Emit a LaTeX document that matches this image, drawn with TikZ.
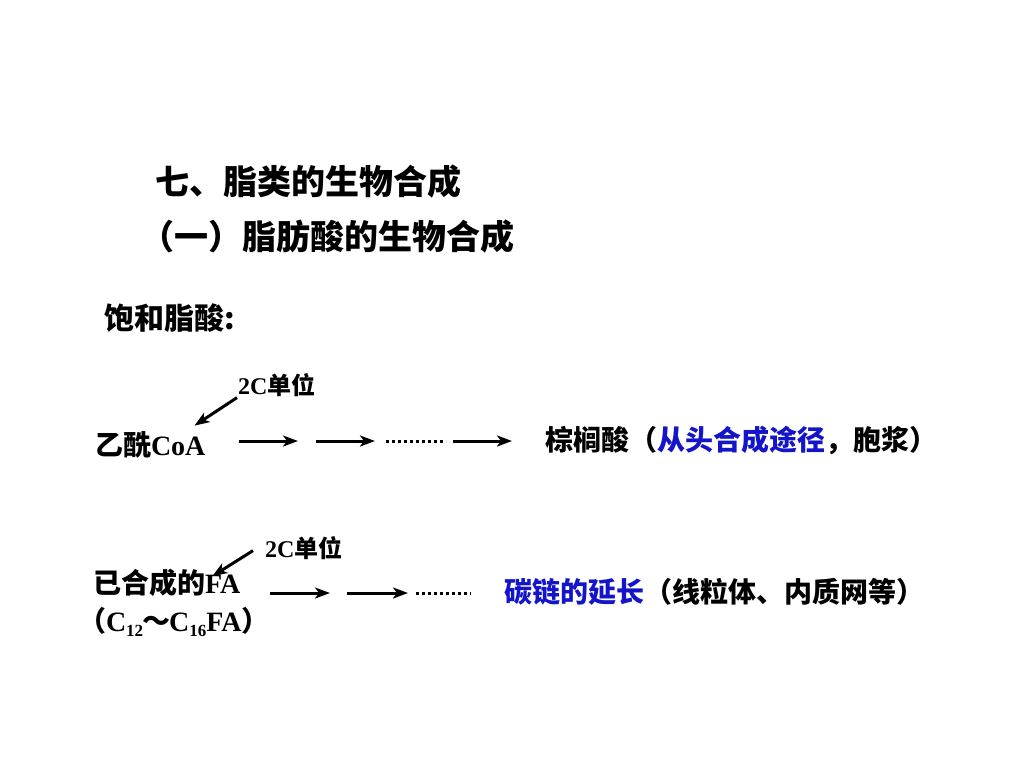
\documentclass[tikz,border=0pt]{standalone}
\usepackage{fontspec}
\setmainfont{Liberation Serif}
\newfontfamily\cjk{Noto Sans CJK SC}
\usetikzlibrary{arrows.meta,positioning}
\definecolor{pathblue}{RGB}{20,20,200}
\newcommand{\zh}[1]{{\cjk\bfseries #1}}
\newcommand{\sub}[1]{\raisebox{-5pt}{\fontsize{17}{17}\selectfont #1}}

\begin{document}
\begin{tikzpicture}[x=1pt,y=-1pt,
txt/.style={anchor=west,inner sep=0pt,outer sep=0pt,font=\bfseries\fontsize{28}{32}\selectfont},
head/.style={anchor=west,inner sep=0pt,font=\cjk\bfseries\fontsize{34}{40}\selectfont},
small/.style={txt,font=\bfseries\fontsize{24}{28}\selectfont},
steparrow/.style={line width=3pt,-{Stealth[length=15pt,width=11pt,inset=4pt]}},
feed/.style={line width=3pt,-{Stealth[length=15pt,width=11pt,inset=4pt]}},
dotrun/.style={line width=3pt,dash pattern=on 3pt off 3pt}]
\useasboundingbox[fill=white] (0,0) rectangle (1024,768);
\node[head] (title) at (155,182) {七、脂类的生物合成};
\node[head] (subtitle) at (140,237) {（一）脂肪酸的生物合成};
\node[txt,font=\cjk\bfseries\fontsize{30}{34}\selectfont] (satfa) at (104,318) {饱和脂酸:};
% de novo route
\node[txt] (acoa) at (95,445) {\zh{乙酰}CoA};
\node[small] (unitA) at (238,385) {2C\zh{单位}};
\node[txt,font=\cjk\bfseries\fontsize{28}{32}\selectfont] (palm) at (545,440) {棕榈酸（\textcolor{pathblue}{从头合成途径}，胞浆）};
\draw[feed] ([xshift=-1pt,yshift=-1pt]unitA.south west) -- ([xshift=-11pt,yshift=6pt]acoa.north east);
\foreach \s/\e [count=\i] in {239/298,316/375,453/512} {
  \coordinate (pa\i) at (\s,441);
  \coordinate (pb\i) at (\e,441);
  \draw[steparrow] (pa\i) -- (pb\i);
}
\coordinate (da) at (386,441);
\coordinate (db) at (446,441);
\draw[dotrun] (da) -- (db);
% elongation
\node[txt] (fa) at (93,583) {\zh{已合成的}FA};
\node[txt] (farange) at (78,622) {\zh{（}C\sub{12}\hspace{-1pt}\zh{～}\hspace{-1pt}C\sub{16}FA\zh{）}};
\node[small] (unitB) at (265,548) {2C\zh{单位}};
\node[txt,font=\cjk\bfseries\fontsize{28}{32}\selectfont] (elong) at (504,592) {\textcolor{pathblue}{碳链的延长}（线粒体、内质网等）};
\draw[feed] ([xshift=-12pt,yshift=9pt]unitB.south west) -- ([xshift=-28pt,yshift=-7pt]fa.north east);
\foreach \s/\e [count=\i] in {270/330,347/408} {
  \coordinate (qa\i) at (\s,593);
  \coordinate (qb\i) at (\e,593);
  \draw[steparrow] (qa\i) -- (qb\i);
}
\coordinate (ea) at (416,593);
\coordinate (eb) at (471,593);
\draw[dotrun] (ea) -- (eb);
\end{tikzpicture}
\end{document}
